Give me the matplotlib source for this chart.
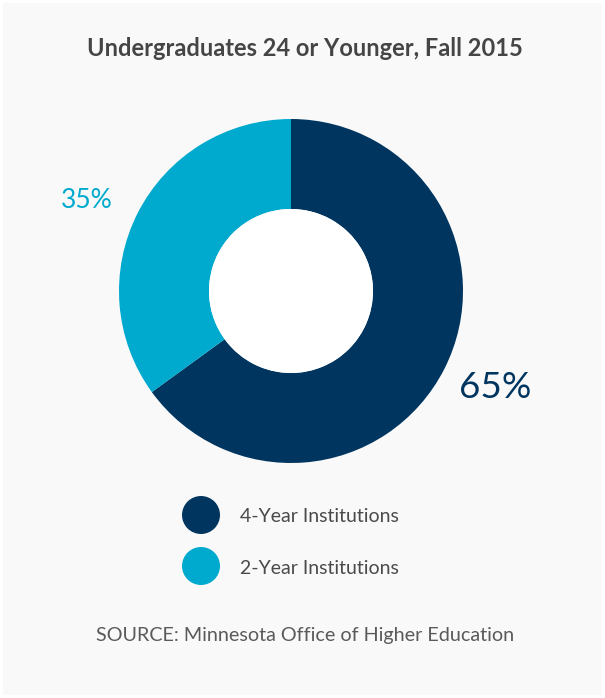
import matplotlib
matplotlib.use("Agg")
import matplotlib.pyplot as plt
from matplotlib.patches import Circle, Rectangle

title = "Undergraduates 24 or Younger, Fall 2015"
categories = ["4-Year Institutions", "2-Year Institutions"]
shares = [65, 35]
pct_labels = ["65%", "35%"]
colors = ["#00355f", "#00a9ce"]
source = "SOURCE: Minnesota Office of Higher Education"

W, H = 605, 698
fig = plt.figure(figsize=(W / 100, H / 100), dpi=100)
fig.patch.set_facecolor("white")
ax = fig.add_axes([0, 0, 1, 1])
ax.set_xlim(0, W)
ax.set_ylim(0, H)
ax.axis("off")

ax.add_patch(Rectangle((3, 3), W - 6, H - 6, facecolor="#f9f9f9", edgecolor="none", zorder=0))

ax.text(305, H - 48, title, ha="center", va="center", fontsize=17,
        fontweight="bold", family="Lato", color="#454545")

cx, cy, R, r = 291, H - 291, 172, 82
ax.pie(shares, colors=colors, startangle=90, counterclock=False,
       center=(cx, cy), radius=R, frame=True,
       wedgeprops=dict(width=R - r, edgecolor="none"))
ax.add_patch(Circle((cx, cy), r, facecolor="white", edgecolor="none", zorder=5))
ax.set_xlim(0, W)
ax.set_ylim(0, H)
ax.axis("off")

ax.text(495, H - 387, pct_labels[0], ha="center", va="center", fontsize=26.5,
        family="Lato", color=colors[0])
ax.text(87, H - 200, pct_labels[1], ha="center", va="center", fontsize=19,
        family="Lato", color=colors[1])

for i, (cat, col) in enumerate(zip(categories, colors)):
    y = H - (515 + i * 51)
    ax.add_patch(Circle((201, y), 19, facecolor=col, edgecolor="none"))
    ax.text(240, y - 2, cat, ha="left", va="center", fontsize=14,
            family="Lato", color="#4a4a4a")

ax.text(305, H - 636, source, ha="center", va="center", fontsize=14.2,
        family="Lato", color="#5a5a5a")

fig.savefig("out.png", dpi=100, facecolor=fig.get_facecolor())
